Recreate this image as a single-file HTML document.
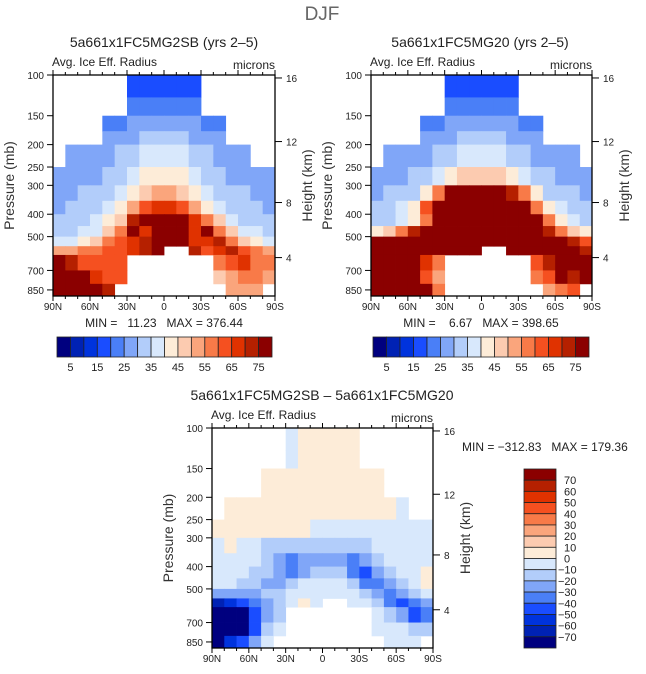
<!DOCTYPE html>
<html><head><meta charset="utf-8"><style>
body{margin:0;background:#fff;}
svg{display:block;font-family:"Liberation Sans",sans-serif;}
</style></head><body>
<svg id="root" width="646" height="674" viewBox="0 0 646 674"></svg>
<script>
// ---- data ----
const lats = [85,75,65,55,45,35,25,15,5,-5,-15,-25,-35,-45,-55,-65,-75,-85];
const pEdges = [100,125,150,175,200,250,300,350,400,450,500,550,600,700,800,903];
const N = null;
const fieldA = [
[N,N,N,N,N,N,18,18,18,18,18,18,N,N,N,N,N,N],
[N,N,N,N,N,N,20,20,22,22,20,20,N,N,N,N,N,N],
[N,N,N,N,22,23,25,26,27,27,26,25,23,22,N,N,N,N],
[N,N,N,N,25,27,29,31,32,32,31,29,27,25,N,N,N,N],
[N,27,27,28,29,31,33,35,37,37,35,33,31,29,28,27,N,N],
[27,28,28,29,31,34,37,40,42,42,40,37,34,31,29,28,27,27],
[28,29,30,31,33,37,42,47,50,50,47,42,37,33,31,30,29,28],
[29,30,31,33,36,42,50,60,65,65,60,52,42,37,33,31,30,29],
[30,31,33,36,40,48,70,75,80,80,80,65,55,45,38,34,32,31],
[32,33,35,39,45,55,75,65,80,80,80,65,75,55,45,38,35,33],
[37,38,42,48,55,60,65,70,80,80,75,65,65,70,55,48,42,38],
[50,50,55,58,60,62,65,70,75,N,N,70,62,65,70,60,55,50],
[75,70,60,60,60,60,N,N,N,N,N,N,N,55,60,65,55,55],
[80,80,75,65,62,60,N,N,N,N,N,N,N,45,50,55,55,50],
[80,80,80,75,70,N,N,N,N,N,N,N,N,N,50,50,50,N]
];
const fieldB = [
[N,N,N,N,N,N,18,18,18,18,18,18,N,N,N,N,N,N],
[N,N,N,N,N,N,20,20,21,21,20,20,N,N,N,N,N,N],
[N,N,N,N,22,23,25,26,27,27,26,25,23,22,N,N,N,N],
[N,N,N,N,25,27,29,31,32,32,31,29,27,25,N,N,N,N],
[N,27,27,28,29,31,33,35,37,37,35,33,31,29,28,27,27,N],
[27,28,29,30,33,37,42,45,47,47,45,42,37,33,30,29,28,27],
[29,30,31,34,40,55,75,80,80,80,80,70,55,40,34,31,30,29],
[30,32,35,42,60,80,80,80,80,80,80,80,75,55,42,35,32,31],
[32,33,35,40,55,80,80,80,80,80,80,80,80,75,55,42,36,33],
[40,45,55,70,80,80,80,80,80,80,80,80,80,80,70,55,45,40],
[75,80,80,80,80,80,80,80,80,80,80,80,80,80,80,75,70,60],
[80,80,80,80,80,80,80,80,80,N,N,80,80,80,80,80,75,70],
[80,80,80,80,65,55,N,N,N,N,N,N,N,60,70,80,80,80],
[80,80,80,80,60,50,N,N,N,N,N,N,N,55,60,80,70,75],
[80,80,80,80,80,55,N,N,N,N,N,N,N,N,50,55,60,N]
];
const fieldD = [
[N,N,N,N,N,N,-5,3,5,5,5,5,N,N,N,N,N,N],
[N,N,N,N,N,N,-5,3,5,5,5,5,N,N,N,N,N,N],
[N,N,N,N,5,5,5,5,5,5,5,5,5,5,N,N,N,N],
[N,N,N,N,5,5,5,5,5,5,5,5,5,5,N,N,N,N],
[N,5,5,5,5,5,5,5,5,5,5,5,5,5,5,-5,N,N],
[5,5,5,5,5,5,5,5,-5,-5,-5,-5,-5,-5,-5,-5,-5,-5],
[-5,5,-5,-5,-15,-20,-15,-15,-15,-15,-15,-15,-15,-5,-5,-5,-5,-5],
[-5,-5,-5,-10,-15,-25,-40,-25,-25,-25,-30,-35,-25,-15,-5,-5,-5,-5],
[-5,-5,-10,-15,-20,-30,-35,-25,-15,-15,-20,-35,-45,-30,-15,-5,-5,5],
[-10,-10,-15,-20,-25,-25,-15,-5,-5,-5,-5,-15,-35,-40,-25,-15,-5,5],
[-25,-25,-25,-25,-20,-15,-5,-5,-5,-5,-5,-5,-15,-30,-35,-30,-15,-5],
[-70,-60,-50,-40,-25,-15,-5,5,-5,N,N,-5,-10,-20,-40,-45,-35,-25],
[-80,-80,-80,-50,-30,-15,N,N,N,N,N,N,N,-5,-15,-30,-50,-40],
[-80,-80,-80,-45,-20,-10,N,N,N,N,N,N,N,-5,-5,-10,-20,-20],
[-80,-60,-45,-30,-10,N,N,N,N,N,N,N,N,N,-5,-5,-5,N]
];
const pTicks = [100,150,200,250,300,400,500,700,850];
const kmTicks = [16,12,8,4];
const kmPress = [103,194,356,616];
const latTicks = ["90N","60N","30N","0","30S","60S","90S"];
const absLabels = [5,15,25,35,45,55,65,75];
const diffLabels = [70,60,50,40,30,20,10,0,-10,-20,-30,-40,-50,-60,-70];

const palette = ["#00007f","#0022b4","#0033dd","#1a4dff","#4a7ff7","#80a6f8","#b2cdfa","#d8e8fc",
"#fdecd8","#fccbb0","#faa57c","#f87a48","#f55020","#e03200","#b52000","#8b0000"];

const NS="http://www.w3.org/2000/svg";
const root=document.getElementById('root');
function el(tag,attrs,parent){const e=document.createElementNS(NS,tag);for(const k in attrs)e.setAttribute(k,attrs[k]);(parent||root).appendChild(e);return e;}
function txt(s,attrs,parent){const t=el('text',attrs,parent);t.textContent=s;return t;}

function drawPanel(cfg){
  const {x0,x1,y0,y1,field,idx,name}=cfg;
  const g=el('g',{});
  
  
  const L=Math.log(903/100);
  const yOf=p=>y0+Math.log(p/100)/L*(y1-y0);
  const xOf=lat=>x0+(90-lat)/180*(x1-x0);
  for(let r=0;r<field.length;r++){
    for(let c=0;c<lats.length;c++){
      const v=field[r][c]; if(v===null)continue;
      const xa=xOf(lats[c]+5), xb=xOf(lats[c]-5);
      const ya=yOf(pEdges[r]), yb=yOf(pEdges[r+1]);
      const rc=el('rect',{x:xa.toFixed(2),y:ya.toFixed(2),width:(xb-xa+0.4).toFixed(2),height:(yb-ya+0.4).toFixed(2),fill:palette[idx(v)]},g);
      
      
    }
  }
  const fr=el('rect',{x:x0,y:y0,width:x1-x0,height:y1-y0,fill:'none',stroke:'#000','stroke-width':1.3},g);
  
  
  for(let lat=90;lat>=-90;lat-=10){
    const x=xOf(lat); const major=lat%30===0; const l=major?5:3;
    el('line',{x1:x,x2:x,y1:y0,y2:y0-l,stroke:'#000','stroke-width':1},g);
    el('line',{x1:x,x2:x,y1:y1,y2:y1+l,stroke:'#000','stroke-width':1},g);
  }
  latTicks.forEach((s,i)=>{
    const t=txt(s,{x:x0+i*(x1-x0)/6,y:y1+14,'font-size':10,'text-anchor':'middle',fill:'#222'},g);
    
    
  });
  pTicks.forEach(p=>{
    const y=yOf(p);
    el('line',{x1:x0,x2:x0-6,y1:y,y2:y,stroke:'#000'},g);
    const t=txt(String(p),{x:x0-9,y:y+4,'font-size':10,'text-anchor':'end',fill:'#222'},g);
    
    
  });
  kmTicks.forEach((k,i)=>{
    const y=yOf(kmPress[i]);
    el('line',{x1:x1,x2:x1+7,y1:y,y2:y,stroke:'#000'},g);
    const t=txt(String(k),{x:x1+11,y:y+4,'font-size':10,fill:'#222'},g);
    
    
  });
  const yl=txt('Pressure (mb)',{transform:`translate(${x0-39},${(y0+y1)/2}) rotate(-90)`,'font-size':14,'text-anchor':'middle',fill:'#333'},g);
  
  
  const yr=txt('Height (km)',{transform:`translate(${x1+37},${(y0+y1)/2}) rotate(-90)`,'font-size':14,'text-anchor':'middle',fill:'#333'},g);
  
  
  const a=txt('Avg. Ice Eff. Radius',{x:x0-1,y:y0-9,'font-size':12,fill:'#222'},g);
  
  
  const m=txt('microns',{x:x1,y:y0-6,'font-size':12,'text-anchor':'end',fill:'#222'},g);
  
  
  const ti=txt(cfg.title,{x:cfg.tx,y:cfg.ty,'font-size':14,'text-anchor':'middle',fill:'#222'},g);
  
  
}
const absIdx=v=>Math.max(0,Math.min(15,Math.floor(v/5)));
const diffIdx=v=>Math.max(0,Math.min(15,Math.floor((v+80)/10)));

const t0=txt('DJF',{x:322,y:20,'font-size':19,'text-anchor':'middle',fill:'#666'});



drawPanel({x0:53,x1:275,y0:75,y1:296,field:fieldA,idx:absIdx,name:'panel-mg2sb',title:'5a661x1FC5MG2SB (yrs 2–5)',tx:164,ty:47});
drawPanel({x0:371,x1:592,y0:75,y1:296,field:fieldB,idx:absIdx,name:'panel-mg20',title:'5a661x1FC5MG20 (yrs 2–5)',tx:480,ty:47});
drawPanel({x0:212,x1:433,y0:428,y1:648,field:fieldD,idx:diffIdx,name:'panel-difference',title:'5a661x1FC5MG2SB – 5a661x1FC5MG20',tx:322,ty:400});

function minmax(s,x,y,anchor){const t=txt(s,{x:x,y:y,'font-size':12,'text-anchor':anchor,fill:'#222'});}
const S='\u00a0';
minmax('MIN'+S+'='+S+S+S+'11.23'+S+S+S+'MAX'+S+'='+S+'376.44',164,327,'middle');
minmax('MIN'+S+'='+S+S+S+S+'6.67'+S+S+S+'MAX'+S+'='+S+'398.65',481,327,'middle');
minmax('MIN'+S+'='+S+'−312.83'+S+S+S+'MAX'+S+'='+S+'179.36',462,451,'start');

function hbar(x0,x1,y0,y1,name){
  const g=el('g',{});
  
  
  const w=(x1-x0)/16;
  palette.forEach((c,i)=>{const r=el('rect',{x:x0+i*w,y:y0,width:w,height:y1-y0,fill:c,stroke:'#222','stroke-width':0.8},g);});
  absLabels.forEach((v,i)=>{const t=txt(String(v),{x:x0+(1+2*i)*w,y:y1+14,'font-size':11,'text-anchor':'middle',fill:'#222'},g);});
}
hbar(57,272,337,357,'colorbar-mg2sb');
hbar(373,589,337,357,'colorbar-mg20');
(function(){
  const x0=524,x1=556,y0=469,y1=648;
  const g=el('g',{});
  
  
  const h=(y1-y0)/16;
  palette.slice().reverse().forEach((c,i)=>{const r=el('rect',{x:x0,y:y0+i*h,width:x1-x0,height:h,fill:c,stroke:'#222','stroke-width':0.8},g);});
  diffLabels.forEach((v,i)=>{const t=txt(String(v).replace('-','−'),{x:v<0?x1+2:x1+8,y:y0+(i+1)*h+4,'font-size':11,fill:'#222'},g);});
})();
</script>
</body></html>
